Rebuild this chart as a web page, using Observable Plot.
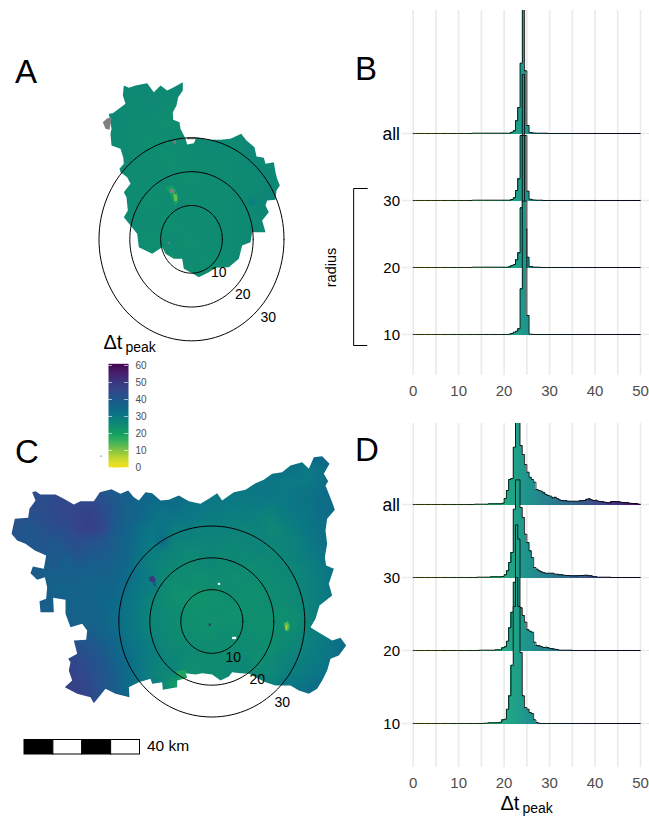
<!DOCTYPE html>
<html><head><meta charset="utf-8">
<script src="https://cdn.jsdelivr.net/npm/d3@7"></script>
<script src="https://cdn.jsdelivr.net/npm/@observablehq/plot@0.6"></script>
<style>
html,body{margin:0;background:#fff}
#w{position:relative;width:649px;height:820px;overflow:hidden;font-family:"Liberation Sans",Helvetica,Arial,sans-serif;color:#000}
#w svg{position:absolute;background:transparent;max-width:none}
.t{position:absolute;white-space:nowrap;line-height:1}
</style></head><body><div id="w"></div>
<script>
// shared Δt colour ramp of the maps
const stops=[0,5,10,15,20,25,30,35,40,45,50,55,60];
const ramp=["#f7e11c","#c8da2e","#86c541","#3fb35a","#12a062","#0f8b72","#0b7a84","#0f688a","#1f588c","#33478c","#3b3880","#46226f","#450a58"];

const binEdges=d3.range(0,50,0.5), xTicks=d3.range(0,51,10), gridX=d3.range(0,51,5);
const rowLabels=["10","20","30","all"];
const histStart=12;
// histogram heights, bins of 0.5 from histStart
const bAll=[0,0,1,1,1,1,1,1,1,1,1,1,1,1,1,1,1,1,1,4,8,38,78,211,600,188,24,3,2,1.5,1,1,1,1,1];
const b30=[0,0,1,1,1,1,1,1,1,1,1,1,1,1,1,1,1,1,1,3,8,30,65,195,378,195,28,4,2,1.5,1,1,1];
const b20=[0,0,1,1,1,1,1,1,1,1,1,1,1,1,1,1,1,1,2,6,9,23,44,179,396,116,31,3,2,1,1,1];
const b10=[0,0,0,0,0,0,0,0,0,0,0,0,0,0,0,0,0,0,1,3,7,10,17,137,400,400,57,1,0.5];
const dAll=[0,0,0,1,1,1,1,1,1,2,2,2,2,2,2,4,18,42,75,78,172,400,400,177,150,120,97,82,75,67,45,42,40,35,30,27,25,20,22,18,14,12,11,11,10,10,10,10,10,11,11,12,16,17,14,12,13,10,9,8,7,5,5,8,9,8,8,7,6,5,5,4,3,3,2,1];
const d30=[0,0,0,0,1,1,1,1,1,1,2,2,2,2,2,3,8,20,45,75,205,293,293,210,180,130,105,80,60,30,25,20,17,14,13,13,13,13,10,10,8,8,7,6,6,5,5,5,5,6,6,7,7,5,5,2,2,1,1,1,1,1,1];
const d20=[0,0,0,0,0,1,1,1,1,1,1,1,2,2,2,8,11,28,68,115,205,377,334,128,105,85,62,58,55,25,15,14,12,9,10,8,6,5,4,3,1,1,1,1,1,1];
const d10=[0,0,0,0,0,0,0,1,1,2,2,2,2,2,4,11,13,43,83,175,351,438,351,213,83,48,43,33,30,11,3,1];

// map outlines, traced in map units
const outlineA=[[130,45],[145,52],[165,45],[200,38],[220,65],[240,45],[260,60],[277,52],[307,35],[307,60],[293,80],[288,105],[277,125],[278,148],[297,155],[300,175],[315,205],[320,222],[340,218],[348,200],[380,208],[420,208],[450,205],[482,190],[498,210],[522,230],[528,258],[550,262],[555,280],[580,275],[585,305],[590,325],[598,345],[588,360],[585,388],[560,390],[555,405],[565,425],[545,450],[555,485],[515,485],[510,515],[485,525],[475,565],[445,590],[405,592],[385,605],[355,620],[335,608],[310,595],[305,565],[280,565],[255,550],[245,530],[215,550],[175,530],[170,490],[150,465],[130,440],[142,420],[138,380],[130,365],[150,340],[140,320],[120,305],[117,295],[130,280],[128,260],[120,235],[93,225],[90,190],[93,175],[85,130],[97,128],[135,100],[127,75]];
const outlineC=[[95,125],[105,122],[120,132],[165,132],[190,145],[220,162],[240,152],[280,152],[298,125],[333,116],[360,130],[383,120],[400,140],[415,150],[435,125],[455,128],[480,150],[505,148],[535,135],[565,152],[600,160],[625,145],[650,128],[665,150],[700,125],[735,118],[765,98],[790,88],[815,70],[845,65],[870,45],[905,35],[925,55],[940,20],[965,17],[987,40],[970,70],[983,92],[975,105],[995,155],[1003,178],[980,205],[975,240],[980,280],[973,320],[977,345],[1000,355],[985,400],[995,435],[957,465],[945,505],[930,530],[945,540],[995,570],[1020,562],[1037,585],[1015,615],[990,625],[980,660],[965,690],[950,715],[925,730],[895,720],[870,705],[825,705],[795,695],[765,680],[747,670],[720,668],[695,665],[685,678],[660,690],[635,672],[605,668],[585,672],[555,668],[560,682],[530,690],[530,710],[487,718],[485,695],[455,700],[450,685],[415,695],[385,710],[387,740],[345,730],[315,715],[280,758],[270,740],[230,730],[193,710],[215,690],[205,660],[210,635],[203,625],[230,610],[220,570],[257,568],[260,540],[245,520],[210,530],[195,490],[195,448],[158,442],[160,485],[120,485],[117,452],[137,445],[140,410],[133,380],[110,388],[90,368],[97,348],[130,355],[137,315],[103,300],[75,280],[50,270],[33,250],[43,205],[83,202],[87,175],[105,150]];

// Δt sampled on a coarse grid of the maps
const gridA=[
[26,26,26,26,26,26,26,26,26,26,26],
[26,26,25,26,25,26,25,26,26,26,26],
[26,26,25,25,24,26,25,26,26,26,26],
[26,25,25,24,25,25,26,25,26,26,26],
[26,26,25,25,24,25,25,25,26,26,26],
[26,26,25,25,25,24,25,25,25,26,26],
[26,26,25,24,25,25,25,25,26,27,27],
[26,25,25,25,24,25,25,25,25,27,27],
[26,26,25,24,25,24,25,25,26,26,26],
[26,26,25,24,24,25,24,25,25,26,26],
[26,26,24,25,24,24,25,24,25,26,26],
[26,26,25,24,24,24,24,25,25,26,26]];
const gridC=[
[43,43,43,43,43,43,43,43,40,38,36,35,34,34,33,33,32,32,32,32,32,32,32,33,34,35,35,36,36,36],
[43,43,43,43,43,43,43,43,40,38,36,35,34,34,33,33,32,32,32,31,32,32,31,33,32,30,32,35,36,36],
[43,43,43,44,44,43,43,42,40,38,36,35,34,33,33,33,32,31,31,31,32,31,31,30,30,30,32,34,35,35],
[43,43,43,43,44,45,44,43,41,39,38,36,35,35,34,33,32,32,30,31,30,31,31,30,31,32,33,34,35,35],
[43,43,44,43,44,45,45,45,43,40,37,36,34,33,34,32,31,30,30,30,29,30,29,30,31,32,33,34,34,34],
[43,42,42,43,44,45,46,47,44,40,37,36,33,31,32,31,30,29,29,28,29,28,27,29,30,31,33,34,34,34],
[43,41,40,42,43,43,46,47,45,39,37,33,31,32,29,29,28,28,28,28,27,28,26,27,29,31,32,33,33,33],
[41,41,40,41,40,42,43,42,41,38,36,33,30,34,27,28,27,27,27,26,27,27,27,27,28,30,32,33,33,33],
[40,40,40,40,39,40,42,40,39,38,36,32,29,28,27,26,26,27,26,26,26,27,26,27,28,29,31,32,33,33],
[39,39,39,38,40,37,39,38,38,37,35,31,28,27,26,25,26,26,25,26,25,25,26,26,27,28,30,32,32,32],
[39,39,39,38,37,38,37,37,37,36,34,31,29,26,25,25,24,25,25,24,25,25,25,26,26,28,29,31,32,32],
[38,38,38,38,37,36,37,36,36,36,33,30,29,26,24,24,24,24,24,25,24,24,25,25,26,28,29,31,31,31],
[38,38,38,38,38,37,36,37,35,35,32,30,27,25,24,23,23,23,24,24,24,24,25,25,26,27,29,31,31,31],
[38,38,38,38,37,37,37,37,36,34,32,29,27,26,25,24,24,24,24,23,24,24,24,24,25,27,29,30,31,31],
[38,38,38,38,38,38,37,37,36,34,31,29,27,26,25,24,24,23,24,24,24,24,24,25,24,27,29,30,31,31],
[38,38,38,40,39,40,41,39,37,35,32,30,28,26,25,25,24,24,25,24,25,24,24,25,26,28,29,31,33,33],
[42,42,42,42,43,43,42,41,39,36,33,31,29,27,26,26,25,25,24,25,25,25,24,26,27,28,30,31,34,34],
[44,44,44,45,45,46,44,42,40,37,34,31,29,27,27,25,25,25,25,25,26,24,26,27,28,29,30,32,34,35],
[45,45,46,47,47,47,45,43,41,38,34,31,28,26,27,24,24,25,25,26,26,26,26,28,29,30,31,33,34,34],
[46,46,46,48,48,47,46,44,41,38,34,31,30,27,20,22,24,25,25,26,27,28,28,30,31,32,34,35,35,35],
[46,46,46,47,47,47,46,44,41,38,36,32,30,28,26,25,25,25,25,26,27,28,30,32,33,34,35,35,35,35],
[46,46,46,47,47,47,46,44,41,38,36,32,30,28,26,25,25,25,25,26,27,28,30,32,33,34,35,35,35,35]];

// small patches: Δt, vertices
const patchesA=[
 {v:20,xs:[255,278,292,292,282,270],ys:[348,346,368,400,404,375]},
 {v:12,xs:[278,290,290,282],ys:[368,374,392,392]},
 {v:29,xs:[505,522,524,508],ys:[385,385,404,404]}];
const grayA=[{xs:[67,80,93,87,75],ys:[155,143,142,178,175]},{xs:[270,282,280,268],ys:[354,358,370,366]},{xs:[262,268,266],ys:[514,516,525]},{xs:[279,286,285,280],ys:[210,210,221,221]},{xs:[318,348,347,320],ys:[200,200,206,206]}];
const patchesC=[
 {v:50,xs:[445,458,466,462,448],ys:[380,376,388,396,392]},
 {v:40,xs:[456,466,468,458],ys:[396,396,408,406]},
 {v:14,xs:[850,862,868,864,854],ys:[518,512,525,542,540]},
 {v:7,xs:[856,861,860,855],ys:[524,522,536,538]},
 {v:19,xs:[525,555,558,535],ys:[662,658,680,688]},
 {v:55,xs:[625,631,631,625],ys:[519,519,526,526]},
 {v:33,xs:[300,303,303,300],ys:[15,15,19,19]}];
const whiteC=[{xs:[652,659,659,652],ys:[397,397,403,403]},{xs:[695,707,707,695],ys:[559,559,566,566]}];

const radii=[10,20,30], angles=d3.range(0,361,3);
const scaleSegments=[{a:0,b:10,k:1},{a:10,b:20,k:0},{a:20,b:30,k:1},{a:30,b:40,k:0}];
const legendLevels=d3.range(60.5,-0.5,-1), legendTicks=d3.range(0,61,10);

const w=document.getElementById("w");
const font='"Liberation Sans",Helvetica,Arial,sans-serif';
function place(svg,left,top){svg.style.left=left+"px";svg.style.top=top+"px";w.appendChild(svg);return svg;}
function text(html,left,base,size){const d=document.createElement("div");d.className="t";d.innerHTML=html;d.style.left=left+"px";d.style.top=(base-size*0.905)+"px";d.style.fontSize=size+"px";w.appendChild(d);return d;}
const poly=(list)=>list.flatMap((p,id)=>p.xs.map((x,i)=>({id,x,y:p.ys[i],v:p.v})));

function map({left,top,width,height,outline,grid,patches,grays,whites,labels,cx,cy,rx,ry,cell}){
  const ring=radii.flatMap(r=>angles.map(a=>({r,x:cx+rx*r/10*Math.cos(a*Math.PI/180),y:cy+ry*r/10*Math.sin(a*Math.PI/180)})));
  const cols=grid[0].length,rows=grid.length;
  const svg=Plot.plot({width,height,margin:0,style:{background:"transparent",fontFamily:font},
    x:{domain:[0,width*3],range:[0,width],axis:null},
    y:{domain:[0,height*3],range:[0,height],axis:null},
    color:{type:"linear",domain:stops,range:ramp,interpolate:"rgb"},
    marks:[
      Plot.raster(grid.flat(),{width:cols,height:rows,x1:0,x2:cols*cell,y1:0,y2:rows*cell,fill:d=>d}),
      Plot.line(poly(patches),{x:"x",y:"y",z:"id",fill:"v",stroke:"none",curve:"linear-closed"}),
      Plot.line(poly(grays),{x:"x",y:"y",z:"id",fill:"#808080",stroke:"none"}),
      Plot.line(poly(whites),{x:"x",y:"y",z:"id",fill:"#fff",stroke:"none"}),
      Plot.line(ring,{x:"x",y:"y",z:"r",stroke:"#000",strokeWidth:1}),
      Plot.text(labels,{x:"x",y:"y",text:"t",fontSize:14,fill:"#000"})
    ]});
  const sx=svg.scale("x"),sy=svg.scale("y");
  const id="clip"+left, ns="http://www.w3.org/2000/svg";
  const cp=document.createElementNS(ns,"clipPath");cp.setAttribute("id",id);
  const pth=document.createElementNS(ns,"path");
  pth.setAttribute("d",d3.line(d=>sx.apply(d[0]),d=>sy.apply(d[1]))(outline)+"Z");
  cp.appendChild(pth);svg.appendChild(cp);
  svg.querySelector("image").parentNode.setAttribute("clip-path",`url(#${id})`);
  return place(svg,left,top);
}

map({left:80,top:70,width:220,height:280,outline:outlineA,grid:gridA,cell:60,
  patches:patchesA,grays:grayA,whites:[],cx:333,cy:506.5,rx:92.5,ry:101.5,
  labels:[{x:415,y:605,t:"10"},{x:487,y:672,t:"20"},{x:563,y:740,t:"30"}]});
map({left:0,top:450,width:350,height:280,outline:outlineC,grid:gridC,cell:36,
  patches:patchesC,grays:[],whites:whiteC,cx:634,cy:513,rx:93,ry:95.5,
  labels:[{x:698,y:622,t:"10"},{x:770,y:688,t:"20"},{x:845,y:757,t:"30"}]});

function ridges({top,height,y0,y1,gap,base,rowsData,bracket}){
  const dom=[(base-y1)/gap,(base-y0)/gap];
  const marks=[
    Plot.ruleX(gridX,{stroke:"#ebebeb",strokeWidth:1.7}),
    Plot.ruleY([0,1,2,3],{x1:-2.4,x2:52.2,stroke:"#ebebeb",strokeWidth:1.7})
  ];
  const gap3=gap*3;
  for(let row=3;row>=0;row--){
    const hs=rowsData[row];
    const h=e=>{const i=Math.round((e-histStart)*2);return (i>=0&&i<hs.length?hs[i]:0)/gap3;};
    const bins=binEdges.map(e=>({a:e,b:e+0.5,m:e+0.25,top:row+h(e),low:row-0.014}));
    const pts=[...binEdges.map(e=>({x:e,y:row+h(e)})),{x:50,y:row}];
    marks.push(Plot.rect(bins,{x1:"a",x2:"b",y1:"low",y2:"top",fill:"m",shapeRendering:"crispEdges",clip:true}));
    marks.push(Plot.line(pts,{x:"x",y:"y",curve:"step-after",stroke:"#000",strokeWidth:0.9,strokeOpacity:0.9,clip:true}));
  }
  marks.push(Plot.axisX({ticks:xTicks,tickSize:0,tickPadding:10,fontSize:15,fill:"#4d4d4d",label:null,anchor:"bottom"}));
  marks.push(Plot.text(rowLabels,{x:()=>-2.9,y:(d,i)=>i,text:d=>d,textAnchor:"end",fill:"#000",fontSize:d=>d==="all"?17.5:15,dy:1}));
  if(bracket){
    const yb=v=>(base-v)/gap;
    marks.push(Plot.line([{x:-10.1,y:yb(188)},{x:-13.1,y:yb(188)},{x:-13.1,y:yb(345)},{x:-10.2,y:yb(345)}],{x:"x",y:"y",stroke:"#000",strokeWidth:1}));
    marks.push(Plot.text(["radius"],{x:()=>-18.1,y:()=>yb(267),text:d=>d,rotate:-90,fontSize:14.5,fill:"#000"}));
  }
  const svg=Plot.plot({width:329,height,marginLeft:0,marginRight:0,marginTop:y0,marginBottom:height-y1,
    style:{background:"transparent",fontFamily:font},
    x:{domain:[0,50],range:[92.7,320]},
    y:{domain:dom,range:[y1,y0],axis:null},
    color:{type:"linear",scheme:"viridis",reverse:true,domain:[0,52]},
    marks});
  return place(svg,320,top);
}
ridges({top:0,height:405,y0:10,y1:375,gap:67,base:334,rowsData:[b10,b20,b30,bAll],bracket:true});
ridges({top:410,height:390,y0:13,y1:357,gap:73,base:313,rowsData:[d10,d20,d30,dAll]});

// colour bar
place(Plot.plot({width:90,height:125,marginLeft:18,marginRight:52,marginTop:8,marginBottom:4,
  style:{background:"transparent",fontFamily:font},
  x:{domain:[0,1],axis:null},
  y:{domain:[0,60],range:[112,10],axis:null},
  color:{type:"linear",domain:stops,range:ramp,interpolate:"rgb"},
  marks:[
    Plot.raster(legendLevels,{width:1,height:legendLevels.length,x1:0,x2:1,y1:61,y2:0,fill:d=>d}),
    Plot.ruleY(legendTicks,{x1:()=>0,x2:()=>0.2,stroke:"#fff",strokeWidth:0.6}),
    Plot.ruleY(legendTicks,{x1:()=>0.8,x2:()=>1,stroke:"#fff",strokeWidth:0.6}),
    Plot.axisY({ticks:legendTicks,anchor:"right",tickSize:0,tickPadding:7,fontSize:10,fill:"#4d4d4d",label:null})
  ]}),90,355);

// scale bar
place(Plot.plot({width:141,height:20,marginLeft:24,marginRight:1.5,marginTop:3.5,marginBottom:2,
  style:{background:"transparent",fontFamily:font},
  x:{domain:[0,40],axis:null},y:{domain:[0,1],axis:null},
  marks:[Plot.rect(scaleSegments,{x1:"a",x2:"b",y1:()=>0,y2:()=>1,fill:d=>d.k?"#000":"#fff",stroke:"#000",strokeWidth:1})]}),0,736);
text("40 km",147,752.5,15.5);

text("A",15,85,33);text("B",355,82,33);text("C",15,465,33);text("D",355,463,33);
const dt=(x,base)=>{text("Δt",x,base,20);text("peak",x+22,base+3,14);};
dt(103.5,350);dt(500.5,811);
</script></body></html>
